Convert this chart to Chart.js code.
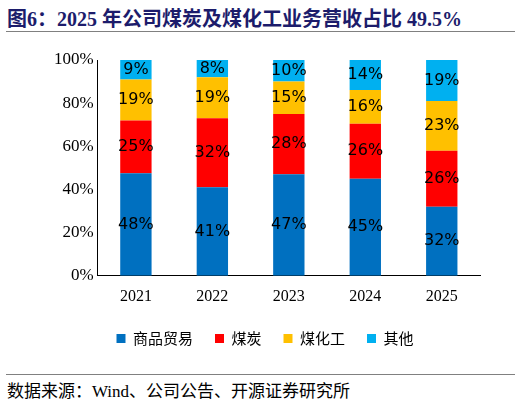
<!DOCTYPE html>
<html><head><meta charset="utf-8">
<script src="https://cdn.jsdelivr.net/npm/chart.js@4"></script>
<style>
body{margin:0;width:522px;height:404px;background:#fff;position:relative;overflow:hidden}
#title{position:absolute;left:7px;top:3px;font:bold 20px "Liberation Serif","Noto Sans CJK SC";color:#1c1c6b;white-space:nowrap}
.rule{position:absolute;left:6px;width:509px;height:1px;background:#808080}
#src{position:absolute;left:7px;top:377px;font:17px "Liberation Serif","Noto Sans CJK SC";color:#000;white-space:nowrap}
#wrap{position:absolute;left:0;top:40px;width:522px;height:320px}
</style></head><body>
<div id="title">图6：2025 年公司煤炭及煤化工业务营收占比 49.5%</div>
<div class="rule" style="top:31px"></div>
<div id="wrap"><canvas id="c"></canvas></div>
<div class="rule" style="top:374px"></div>
<div id="src">数据来源：Wind、公司公告、开源证券研究所</div>
<script>
const years = ["2021", "2022", "2023", "2024", "2025"];
const trade = [47.5, 41, 47, 45, 32];
const coal = [24.5, 32, 28, 25.5, 26];
const chem = [19, 19, 15, 15.6, 23];
const other = [9, 8, 10, 13.9, 19];
const yTicks = ["0%", "20%", "40%", "60%", "80%", "100%"];

const labelPlugin = {
  id: "segLabels",
  afterDatasetsDraw(chart) {
    const ctx = chart.ctx;
    ctx.save();
    ctx.font = '16px "DejaVu Sans"';
    ctx.fillStyle = "#000";
    ctx.textAlign = "center";
    ctx.textBaseline = "middle";
    chart.data.datasets.forEach((ds, i) => {
      chart.getDatasetMeta(i).data.forEach((bar, j) => {
        const p = bar.getProps(["x", "y", "base"], true);
        ctx.fillText(Math.round(ds.data[j]) + "%", p.x, (p.y + p.base) / 2);
      });
    });
    ctx.restore();
  }
};

const mk = (label, data, color) => ({
  label, data, backgroundColor: color, barPercentage: 0.41, categoryPercentage: 1
});

new Chart(document.getElementById("c"), {
  type: "bar",
  data: {
    labels: years,
    datasets: [
      mk("商品贸易", trade, "#0070c0"),
      mk("煤炭", coal, "#ff0000"),
      mk("煤化工", chem, "#ffc000"),
      mk("其他", other, "#00b0f0")
    ]
  },
  plugins: [labelPlugin],
  options: {
    responsive: true,
    maintainAspectRatio: false,
    animation: false,
    layout: { padding: { top: 20, right: 42, left: 50, bottom: 4 } },
    plugins: {
      tooltip: { enabled: false },
      legend: {
        position: "bottom",
        labels: {
          boxWidth: 9, boxHeight: 9, padding: 22, color: "#000",
          font: { family: "Noto Sans CJK SC", size: 15 }
        }
      }
    },
    scales: {
      x: {
        stacked: true,
        grid: { display: false },
        border: { color: "#000" },
        ticks: { color: "#000", font: { family: "Liberation Serif", size: 16 } }
      },
      y: {
        stacked: true,
        min: 0, max: 100,
        grid: { display: false, drawTicks: false },
        border: { color: "#000" },
        ticks: {
          stepSize: 20, padding: 4, color: "#000",
          font: { family: "Liberation Serif", size: 17 },
          callback: (v) => yTicks[v / 20]
        }
      }
    }
  }
});
</script>
</body></html>
